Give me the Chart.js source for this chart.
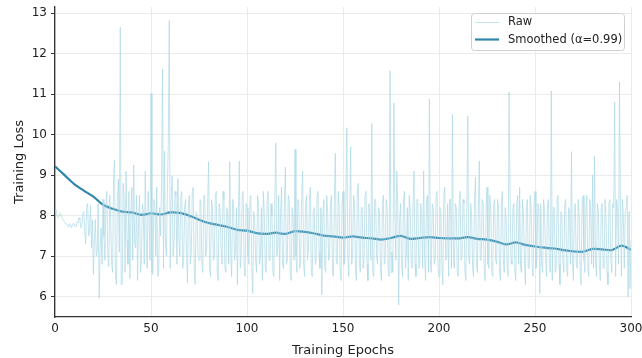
<!DOCTYPE html>
<html>
<head>
<meta charset="utf-8">
<script src="https://cdn.jsdelivr.net/npm/chart.js@4.4.0/dist/chart.umd.min.js"></script>
<style>
  html, body { margin: 0; padding: 0; background: #fff; }
  #wrap { width: 642px; height: 358px; }
</style>
</head>
<body>
<div id="wrap"><canvas id="lossChart" width="642" height="358"></canvas></div>
<script>
// raw training loss, two values per epoch (0, 0.5, 1, ... 300)
const rawStep = 0.5;
const rawLoss = [
    8.15, 8.08, 8.02, 7.95, 7.98, 8.06, 8.05, 7.96, 7.92, 7.88, 7.85, 7.80, 7.80, 7.76, 7.72, 7.80, 7.78, 7.70, 7.75, 7.82,
    7.80, 7.72, 7.74, 7.85, 7.82, 7.95, 7.90, 7.70, 7.75, 8.05, 8.10, 7.60, 7.30, 8.20, 8.30, 7.50, 7.60, 8.25, 7.20, 7.90,
    6.55, 7.40, 7.90, 7.00, 7.10, 8.30, 5.96, 7.20, 7.70, 6.80, 8.40, 7.50, 6.90, 8.20, 8.60, 7.00, 6.75, 8.50, 7.90, 6.80,
    6.60, 8.90, 9.37, 6.50, 6.30, 8.40, 8.90, 7.10, 12.65, 6.30, 6.30, 8.80, 8.40, 6.60, 9.10, 7.40, 6.80, 8.60, 6.45, 7.90,
    8.70, 6.90, 9.25, 7.30, 7.20, 8.50, 6.40, 7.80, 8.50, 6.60, 6.90, 8.30, 8.10, 6.80, 9.10, 7.50, 6.70, 8.60, 7.90, 6.90,
    11.02, 6.60, 6.55, 8.40, 8.30, 7.00, 8.70, 6.50, 6.60, 8.20, 7.50, 8.80, 11.62, 6.70, 9.60, 7.40, 7.00, 8.50, 9.77, 12.82,
    6.70, 8.40, 8.98, 7.00, 7.30, 8.60, 8.50, 6.80, 8.92, 7.50, 7.00, 8.40, 8.60, 6.70, 6.90, 8.20, 8.40, 7.10, 6.35, 8.30,
    8.50, 6.80, 7.10, 8.60, 8.70, 6.70, 6.30, 8.10, 8.00, 7.00, 6.90, 8.40, 8.30, 6.80, 6.60, 8.50, 8.50, 7.00, 7.20, 8.30,
    9.33, 6.70, 6.50, 8.40, 8.20, 6.90, 7.00, 8.50, 8.60, 6.60, 6.40, 8.30, 8.10, 7.20, 6.80, 8.60, 8.40, 6.70, 6.60, 8.20,
    8.00, 6.80, 9.33, 7.10, 6.50, 8.40, 8.30, 6.90, 7.10, 8.20, 6.30, 8.00, 9.35, 6.70, 7.00, 8.50, 8.60, 6.80, 6.50, 8.30,
    8.20, 7.00, 6.80, 8.40, 8.50, 6.70, 6.08, 8.10, 7.90, 6.90, 6.60, 8.50, 8.30, 6.80, 7.00, 8.20, 6.40, 8.60, 8.10, 6.70,
    6.60, 8.40, 8.60, 6.90, 6.90, 8.30, 8.00, 6.60, 6.50, 8.40, 9.80, 7.00, 7.20, 8.50, 6.40, 8.10, 8.70, 6.80, 6.70, 8.30,
    9.20, 6.80, 6.90, 8.50, 8.40, 6.60, 6.40, 8.20, 8.00, 6.90, 9.64, 7.00, 6.60, 8.40, 8.30, 6.70, 7.00, 8.60, 9.10, 6.80,
    6.50, 8.30, 8.50, 6.90, 7.20, 8.40, 8.70, 6.60, 6.50, 8.10, 8.20, 6.80, 6.90, 8.50, 8.60, 7.10, 6.70, 8.20, 6.05, 8.00,
    8.40, 6.70, 6.60, 8.50, 8.10, 6.90, 7.00, 8.30, 8.50, 6.60, 6.50, 8.40, 9.54, 6.90, 6.80, 8.60, 8.20, 6.70, 6.40, 8.30,
    8.60, 6.80, 6.90, 8.40, 10.17, 7.00, 6.50, 8.20, 9.70, 6.80, 7.00, 8.50, 8.30, 6.60, 6.40, 8.70, 8.80, 6.90, 6.60, 8.20,
    8.20, 6.70, 7.00, 8.50, 8.60, 6.80, 6.40, 8.30, 8.00, 6.90, 10.27, 6.60, 6.50, 8.40, 8.40, 7.00, 6.80, 8.20, 8.10, 6.70,
    6.40, 8.30, 8.50, 6.80, 6.90, 8.40, 8.20, 6.70, 6.50, 11.58, 6.60, 7.10, 6.60, 10.78, 8.20, 6.90, 9.10, 8.30, 5.80, 7.90,
    8.30, 6.80, 6.50, 8.40, 8.60, 6.70, 7.00, 8.20, 6.40, 8.50, 8.20, 6.90, 6.70, 8.30, 9.10, 6.80, 6.50, 8.40, 8.40, 6.70,
    6.80, 8.30, 8.00, 6.70, 9.10, 7.00, 6.40, 8.40, 8.50, 6.60, 10.88, 6.90, 6.60, 8.30, 8.20, 6.80, 6.90, 8.50, 8.60, 6.70,
    6.50, 8.20, 8.10, 6.80, 6.30, 8.50, 8.70, 6.90, 7.00, 8.30, 6.50, 8.40, 8.40, 6.70, 10.50, 7.00, 6.70, 8.30, 8.20, 6.60,
    6.50, 8.30, 8.60, 6.90, 7.00, 8.40, 8.30, 6.60, 6.40, 8.20, 10.46, 6.90, 6.80, 8.30, 8.00, 6.70, 6.50, 8.40, 8.95, 6.80,
    6.60, 8.20, 9.35, 6.90, 6.90, 8.40, 8.30, 6.70, 6.40, 8.10, 8.70, 6.80, 6.70, 8.50, 8.10, 6.60, 6.50, 8.30, 8.40, 6.90,
    6.80, 8.40, 8.20, 6.60, 6.40, 8.30, 8.60, 6.90, 6.60, 8.20, 7.90, 6.70, 6.50, 11.05, 8.60, 6.90, 6.80, 8.20, 8.30, 6.60,
    6.40, 8.30, 8.50, 6.80, 8.70, 6.70, 6.60, 8.40, 8.00, 6.90, 6.30, 8.20, 8.40, 6.70, 6.70, 8.50, 8.20, 6.80, 6.50, 8.30,
    8.60, 6.70, 6.90, 8.30, 8.20, 6.08, 8.30, 6.80, 6.60, 8.40, 8.10, 6.90, 6.50, 8.30, 8.40, 6.70, 6.60, 11.08, 6.40, 8.20,
    8.20, 6.60, 6.70, 8.40, 8.50, 6.80, 6.30, 8.10, 8.00, 6.90, 6.60, 8.30, 8.40, 6.70, 6.50, 8.20, 8.10, 6.80, 9.58, 6.90,
    6.40, 8.20, 8.30, 6.80, 6.70, 8.40, 8.00, 6.60, 6.30, 8.30, 8.50, 6.90, 6.60, 8.20, 8.50, 6.70, 6.50, 8.40, 8.20, 6.80,
    9.00, 6.70, 9.48, 6.90, 6.50, 8.30, 8.10, 6.80, 6.40, 8.20, 8.30, 6.70, 6.70, 8.40, 7.90, 6.60, 6.30, 8.30, 8.40, 6.90,
    6.60, 8.30, 8.20, 10.80, 6.50, 8.40, 8.20, 6.80, 11.30, 8.30, 6.50, 8.40, 8.00, 6.70, 8.10, 8.20, 8.50, 6.00, 8.10, 6.20,
    7.40
];

// smoothed curve (alpha = 0.99), read every 5 epochs
const smoothEpochs = [
    0, 5, 10, 15, 20, 25, 30, 35, 40, 45, 50, 55, 60, 65, 70, 75, 80, 85, 90, 95,
    100, 105, 110, 115, 120, 125, 130, 135, 140, 145, 150, 155, 160, 165, 170, 175, 180, 185, 190, 195,
    200, 205, 210, 215, 220, 225, 230, 235, 240, 245, 250, 255, 260, 265, 270, 275, 280, 285, 290, 295, 300
];
const smoothLoss = [
    9.22, 9.00, 8.78, 8.62, 8.47, 8.27, 8.17, 8.10, 8.08, 8.02, 8.06, 8.03, 8.08, 8.07, 8.00, 7.90, 7.82, 7.77, 7.72, 7.65,
    7.63, 7.57, 7.55, 7.58, 7.55, 7.62, 7.60, 7.56, 7.51, 7.49, 7.46, 7.49, 7.46, 7.44, 7.41, 7.45, 7.50, 7.43, 7.45, 7.47,
    7.45, 7.44, 7.44, 7.47, 7.43, 7.41, 7.36, 7.29, 7.34, 7.28, 7.24, 7.21, 7.19, 7.15, 7.12, 7.11, 7.18, 7.17, 7.15, 7.26, 7.16
];

const xTicks = [0, 50, 100, 150, 200, 250, 300];
const yTicks = [6, 7, 8, 9, 10, 11, 12, 13];

const FONT = "'DejaVu Sans', sans-serif";
const RAW_COLOR = 'rgba(173, 216, 230, 0.7)';
const SMOOTH_COLOR = '#2e86ab';

// matplotlib-like legend box in the upper right corner
const legendBox = {
    id: 'legendBox',
    afterDraw(chart) {
        const ctx = chart.ctx;
        const x = 471, y = 13, w = 153, h = 37;
        ctx.save();
        ctx.fillStyle = 'rgba(255,255,255,0.85)';
        ctx.strokeStyle = '#d0d0d0';
        ctx.lineWidth = 1;
        ctx.beginPath();
        ctx.roundRect(x + 0.5, y + 0.5, w, h, 3);
        ctx.fill();
        ctx.stroke();

        ctx.lineWidth = 1;
        ctx.strokeStyle = RAW_COLOR;
        ctx.beginPath();
        ctx.moveTo(475, 22.5);
        ctx.lineTo(499, 22.5);
        ctx.stroke();

        ctx.lineWidth = 2.2;
        ctx.strokeStyle = SMOOTH_COLOR;
        ctx.beginPath();
        ctx.moveTo(475, 39.5);
        ctx.lineTo(499, 39.5);
        ctx.stroke();

        ctx.fillStyle = '#222';
        ctx.font = '11.5px ' + FONT;
        ctx.textBaseline = 'middle';
        ctx.fillText('Raw', 508, 22.5);
        ctx.fillText('Smoothed (\u03b1=0.99)', 508, 40);
        ctx.restore();
    }
};

function initChart() {
    const ctx = document.getElementById('lossChart').getContext('2d');

    new Chart(ctx, {
        type: 'line',
        data: {
            datasets: [{
                label: 'Raw',
                data: rawLoss.map((v, i) => ({ x: i * rawStep, y: v })),
                borderColor: RAW_COLOR,
                borderWidth: 1,
                pointRadius: 0,
                tension: 0
            }, {
                label: 'Smoothed (\u03b1=0.99)',
                data: smoothEpochs.map((e, i) => ({ x: e, y: smoothLoss[i] })),
                borderColor: SMOOTH_COLOR,
                borderWidth: 2.2,
                pointRadius: 0,
                tension: 0.3
            }]
        },
        options: {
            responsive: false,
            animation: false,
            devicePixelRatio: 1,
            layout: {
                padding: { top: 7, right: 11, left: 0, bottom: 0 }
            },
            plugins: {
                legend: { display: false },
                tooltip: { enabled: false }
            },
            scales: {
                x: {
                    type: 'linear',
                    min: 0,
                    max: 300,
                    afterBuildTicks: (scale) => { scale.ticks = xTicks.map(v => ({ value: v })); },
                    afterFit: (scale) => {
                        scale.height = 41;
                        scale.paddingLeft = 0;
                        scale.paddingRight = 0;
                    },
                    grid: { color: '#ebebeb', lineWidth: 1, drawTicks: false },
                    border: { color: '#333', width: 1.3 },
                    ticks: { color: '#222', font: { family: FONT, size: 12 }, padding: 5, maxRotation: 0 },
                    title: {
                        display: true,
                        text: 'Training Epochs',
                        color: '#222',
                        font: { family: FONT, size: 13 },
                        padding: { top: 2, bottom: 0 }
                    }
                },
                y: {
                    type: 'linear',
                    min: 5.5,
                    max: 13.15,
                    afterBuildTicks: (scale) => { scale.ticks = yTicks.map(v => ({ value: v })); },
                    afterFit: (scale) => {
                        scale.width = 55;
                        scale.paddingTop = 0;
                        scale.paddingBottom = 0;
                    },
                    grid: { color: '#ebebeb', lineWidth: 1, tickLength: 4, tickColor: '#333' },
                    border: { color: '#333', width: 1.3 },
                    ticks: { color: '#222', font: { family: FONT, size: 12 }, padding: 4 },
                    title: {
                        display: true,
                        text: 'Training Loss',
                        color: '#222',
                        font: { family: FONT, size: 13 },
                        padding: { top: 12, bottom: 2 }
                    }
                }
            }
        },
        plugins: [legendBox]
    });
}

initChart();
</script>
</body>
</html>
